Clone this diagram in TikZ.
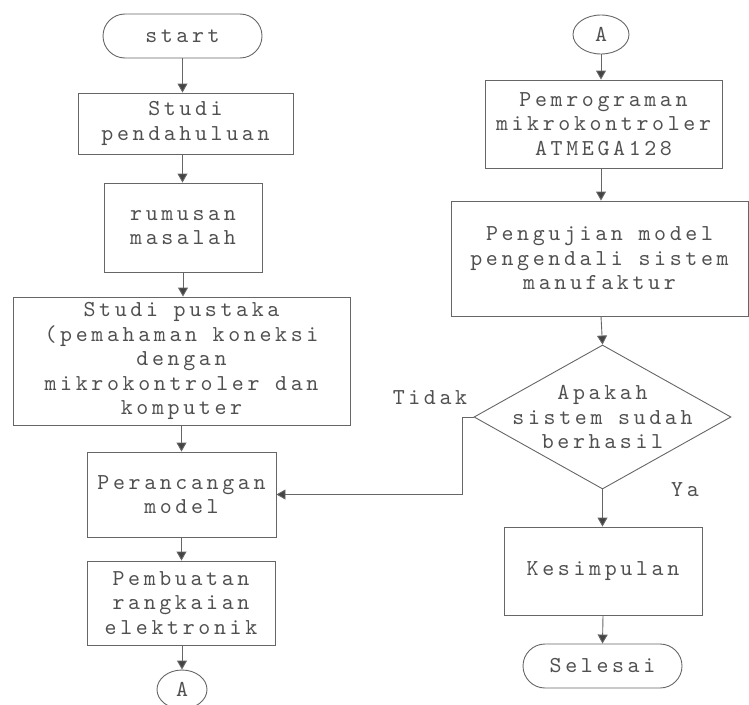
\documentclass[tikz,border=0pt]{standalone}
\usepackage{fontspec}
\newfontfamily\flowtt[LetterSpace=16]{lmmono10-regular.otf}
\usetikzlibrary{arrows.meta,shapes.geometric,shapes.misc}
\definecolor{ln}{HTML}{666666}
\definecolor{tx}{HTML}{505050}
\definecolor{ar}{HTML}{444444}
\newcommand{\flowfont}{\flowtt\fontsize{22.8}{24.5}\selectfont}
\tikzset{
  base/.style={draw=ln, line width=0.9pt, text=tx, align=center, inner sep=0pt,
    font=\flowfont},
  boxn/.style={base, rectangle},
  term/.style={base, rounded rectangle},
  conn/.style={base, ellipse},
  dec/.style={base, diamond},
  arr/.style={draw=ln, line width=0.9pt, -{Triangle[length=9pt,width=10pt,fill=ar]}},
  lbl/.style={text=tx, font=\flowfont, inner sep=0pt}
}
\begin{document}
\begin{tikzpicture}[x=1pt,y=-1pt]
\useasboundingbox (0,0) rectangle (749,704);
% left column
\node[term, minimum width=159pt, minimum height=44pt] (start) at (182.5,36) {start};
\node[boxn, minimum width=215pt, minimum height=61pt] (s1) at (185.5,123.5) {Studi\\pendahuluan};
\node[boxn, minimum width=158pt, minimum height=89pt] (s2) at (183,227.5) {rumusan\\masalah};
\node[boxn, minimum width=337pt, minimum height=128pt] (s3) at (181.5,361) {Studi pustaka\\(pemahaman koneksi\\dengan\\mikrokontroler dan\\komputer};
\node[boxn, minimum width=189pt, minimum height=85pt] (s4) at (181.5,494.5) {Perancangan\\model};
\node[boxn, minimum width=188pt, minimum height=84pt] (s5) at (181,603) {Pembuatan\\rangkaian\\elektronik};
\node[conn, minimum width=50pt, minimum height=39pt] (a1) at (182,689.5) {A};
% right column
\node[conn, minimum width=56pt, minimum height=39pt] (a2) at (601,34.5) {A};
\node[boxn, minimum width=237pt, minimum height=88pt] (r1) at (603.5,124) {Pemrograman\\mikrokontroler\\ATMEGA128};
\node[boxn, minimum width=297pt, minimum height=115pt] (r2) at (599.5,258.5) {Pengujian model\\pengendali sistem\\manufaktur};
\node[dec, minimum width=257pt, minimum height=144pt, aspect=1.78] (d) at (602.5,417) {};
\node[lbl, align=center] (dt) at (602.5,417) {Apakah\\sistem sudah\\berhasil};
\node[boxn, minimum width=198pt, minimum height=88pt] (r3) at (603,571) {Kesimpulan};
\node[term, minimum width=159pt, minimum height=44pt] (fin) at (602.5,666) {Selesai};
\node[lbl] (tidak) at (430,398) {Tidak};
\node[lbl] (ya) at (685,490) {Ya};
\coordinate (k) at (462,0);
% connectors
\draw[arr] (start.south) -- (start.south |- s1.north);
\draw[arr] (start.south |- s1.south) -- (start.south |- s2.north);
\draw[arr] (s2.south) -- (s2.south |- s3.north);
\draw[arr] (s3.south) -- (s3.south |- s4.north);
\draw[arr] (s4.south) -- (s4.south |- s5.north);
\draw[arr] (s5.south -| a1) -- (a1.north);
\draw[arr] (a2.south) -- (a2.south |- r1.north);
\draw[arr] (a2.south |- r1.south) -- (a2.south |- r2.north);
\draw[arr] (a2.south |- r2.south) -- (d.north);
\draw[arr] (d.south) -- (d.south |- r3.north);
\draw[arr] (r3.south) -- (fin.north);
\draw[arr] (d.west) -- (d.west -| k) |- (s4.east);
\end{tikzpicture}
\end{document}
